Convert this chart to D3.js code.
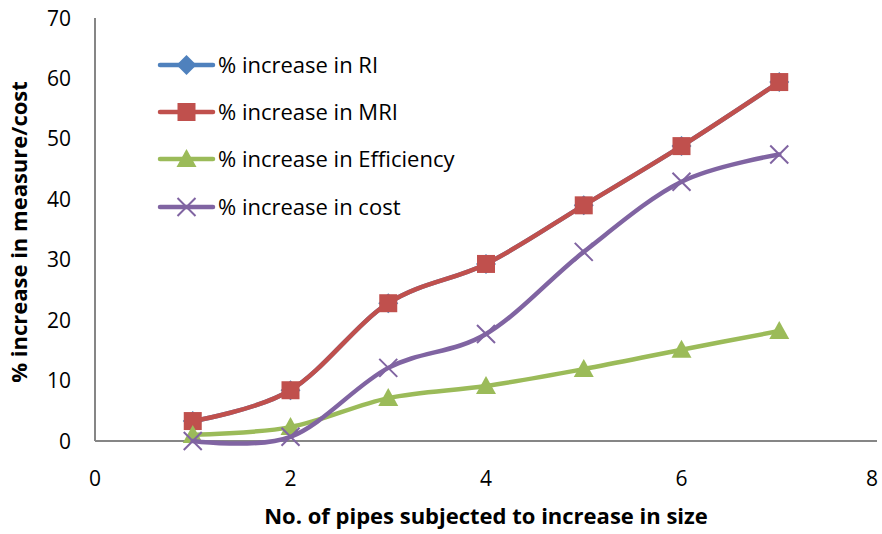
<!DOCTYPE html>
<html><head><meta charset="utf-8">
<script src="https://cdn.jsdelivr.net/npm/d3@7"></script>
<style>body{margin:0;background:#fff}</style>
</head><body>
<svg id="c" width="882" height="534"></svg>
<script>
const xValues = [1, 2, 3, 4, 5, 6, 7];
const ri = [3.3, 8.4, 22.8, 29.3, 39.0, 48.8, 59.4];
const mri = [3.3, 8.4, 22.8, 29.3, 39.0, 48.8, 59.4];
const efficiency = [1.0, 2.3, 7.1, 9.1, 11.9, 15.1, 18.2];
const cost = [0.0, 0.7, 12.1, 17.7, 31.3, 42.9, 47.4];
const xTicks = [0, 2, 4, 6, 8];
const yTicks = [0, 10, 20, 30, 40, 50, 60, 70];
const seriesNames = ["% increase in RI", "% increase in MRI", "% increase in Efficiency", "% increase in cost"];

const series = [
  {name: seriesNames[0], vals: ri, color: "#4F81BD", marker: "diamond"},
  {name: seriesNames[1], vals: mri, color: "#C0504D", marker: "square"},
  {name: seriesNames[2], vals: efficiency, color: "#9BBB59", marker: "triangle"},
  {name: seriesNames[3], vals: cost, color: "#8064A2", marker: "x"}
];

const svg = d3.select("#c");
const font = "'Open Sans', Lato, sans-serif";
const x = d3.scaleLinear().domain([0, 8]).range([95, 877]);
const y = d3.scaleLinear().domain([0, 70]).range([441, 18]);

// axes
svg.append("line").attr("x1", x(0)).attr("x2", x(8)).attr("y1", y(0)).attr("y2", y(0))
  .attr("stroke", "#868686").attr("stroke-width", 2);
svg.append("line").attr("x1", x(0)).attr("x2", x(0)).attr("y1", y(0)).attr("y2", y(70))
  .attr("stroke", "#868686").attr("stroke-width", 2);

svg.selectAll(".yt").data(yTicks).enter().append("text")
  .attr("x", 71).attr("y", d => y(d)).attr("dy", "0.36em").attr("text-anchor", "end")
  .attr("font-family", font).attr("font-size", 21).attr("fill", "#000").text(d => d);
svg.selectAll(".xt").data(xTicks).enter().append("text")
  .attr("x", d => Math.min(x(d), 872)).attr("y", 486).attr("text-anchor", "middle")
  .attr("font-family", font).attr("font-size", 21).attr("fill", "#000").text(d => d);

svg.append("text").attr("x", 486).attr("y", 524).attr("text-anchor", "middle")
  .attr("font-family", font).attr("font-size", 22).attr("font-weight", "bold")
  .text("No. of pipes subjected to increase in size");
svg.append("text").attr("transform", "translate(27,232) rotate(-90)").attr("text-anchor", "middle")
  .attr("font-family", font).attr("font-size", 22).attr("font-weight", "bold")
  .text("% increase in measure/cost");

function drawMarker(g, type, cx, cy, color) {
  if (type === "square") {
    g.append("rect").attr("x", cx - 9).attr("y", cy - 9).attr("width", 18).attr("height", 18).attr("fill", color);
  } else if (type === "diamond") {
    g.append("path").attr("d", `M${cx},${cy-10}L${cx+10},${cy}L${cx},${cy+10}L${cx-10},${cy}Z`).attr("fill", color);
  } else if (type === "triangle") {
    g.append("path").attr("d", `M${cx},${cy-10}L${cx+10},${cy+8}L${cx-10},${cy+8}Z`).attr("fill", color);
  } else {
    g.append("path").attr("d", `M${cx-9},${cy-9}L${cx+9},${cy+9}M${cx-9},${cy+9}L${cx+9},${cy-9}`)
      .attr("stroke", color).attr("stroke-width", 2);
  }
}

const line = d3.line().x(d => x(d[0])).y(d => y(d[1])).curve(d3.curveCardinal.tension(0));
series.forEach(s => {
  const pts = xValues.map((xv, i) => [xv, s.vals[i]]);
  svg.append("path").datum(pts).attr("d", line).attr("fill", "none")
    .attr("stroke", s.color).attr("stroke-width", 4.5).attr("stroke-linecap", "round");
  const g = svg.append("g");
  pts.forEach(p => drawMarker(g, s.marker, x(p[0]), y(p[1]), s.color));
});

// legend
const ly = [65, 112, 159, 207];
series.forEach((s, i) => {
  const g = svg.append("g");
  g.append("line").attr("x1", 160).attr("x2", 213).attr("y1", ly[i]).attr("y2", ly[i])
    .attr("stroke", s.color).attr("stroke-width", 4.5).attr("stroke-linecap", "round");
  drawMarker(g, s.marker, 186.5, ly[i], s.color);
  g.append("text").attr("x", 218).attr("y", ly[i]).attr("dy", "0.36em")
    .attr("font-family", font).attr("font-size", 22).attr("fill", "#000").text(s.name);
});
</script>
</body></html>
